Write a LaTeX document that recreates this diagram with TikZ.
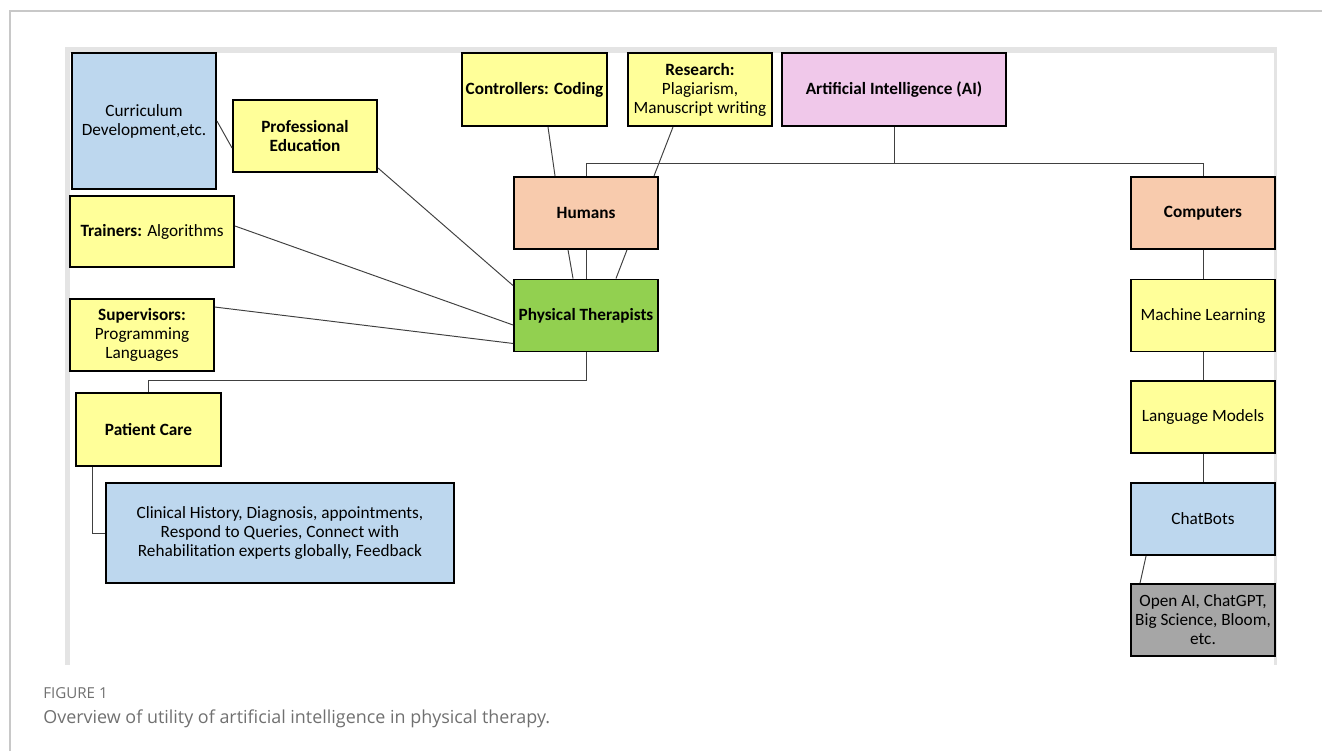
\documentclass[tikz,border=0pt]{standalone}
\usepackage{fontspec}
\setmainfont{Carlito}
\newfontfamily\capfont{Open Sans}
\usetikzlibrary{calc}
\definecolor{boxyellow}{RGB}{255,255,153}
\definecolor{boxblue}{RGB}{189,215,238}
\definecolor{boxsalmon}{RGB}{248,203,173}
\definecolor{boxgreen}{RGB}{146,208,80}
\definecolor{boxpink}{RGB}{240,200,234}
\definecolor{boxgray}{RGB}{166,166,166}
\definecolor{linkgray}{RGB}{64,64,64}
\definecolor{capgray}{RGB}{112,112,112}
\definecolor{framegray}{RGB}{200,200,200}
\definecolor{panelgray}{RGB}{228,228,228}
\tikzstyle{box}=[draw=black,line width=1.1pt,inner sep=1pt,align=center,font=\fontsize{9.8}{10.8}\selectfont]
\tikzstyle{smallbox}=[box,minimum width=2.88cm,minimum height=1.44cm]
\tikzstyle{link}=[draw=linkgray,line width=0.55pt]

\begin{document}
\begin{tikzpicture}[x=0.02cm,y=-0.02cm]  % 1 unit = 1 px of the figure
\useasboundingbox (0,0) rectangle (1322,751);

% page frame and panel
\draw[framegray,line width=0.6pt] (10,751)
      to  (10,11)
      to  (1322,11);
\fill[panelgray] (65,47) rectangle (1276,53);
\fill[panelgray] (65,47) rectangle (70,665);
\fill[panelgray] (1274,47) rectangle (1277,665);

% left side
\node[box,fill=boxblue,minimum width=2.88cm,minimum height=2.72cm] (cur) at (144,121) {Curriculum\\Development,etc.};
\node[smallbox,fill=boxyellow] (profed) at (305,136) {\textbf{Professional}\\\textbf{Education}};
\node[box,fill=boxyellow,minimum width=3.28cm,minimum height=1.42cm] (train) at (152,231.5) {\textbf{Trainers:} Algorithms};
\node[smallbox,fill=boxyellow] (super) at (142,335) {\textbf{Supervisors:}\\Programming\\Languages};
\node[box,fill=boxyellow,minimum width=2.9cm,minimum height=1.46cm] (pc) at (148.5,429.5) {\textbf{Patient Care}};
\node[box,fill=boxblue,minimum width=6.96cm,minimum height=2cm] (clin) at (280,533) {Clinical History, Diagnosis, appointments,\\Respond to Queries, Connect with\\Rehabilitation experts globally, Feedback};

% top row
\node[box,fill=boxyellow,minimum width=2.9cm,minimum height=1.46cm] (ctrl) at (534.5,89.5) {\textbf{Controllers: Coding}};
\node[box,fill=boxyellow,minimum width=2.88cm,minimum height=1.46cm] (res) at (700,89.5) {\textbf{Research:}\\Plagiarism,\\Manuscript writing};
\node[box,fill=boxpink,minimum width=4.48cm,minimum height=1.46cm] (ai) at (894,89.5) {\textbf{Artificial Intelligence (AI)}};

% humans branch
\node[smallbox,fill=boxsalmon] (hum) at (586,213) {\textbf{Humans}};
\node[smallbox,fill=boxgreen] (pt) at (586,315.5) {\textbf{Physical Therapists}};

% computers branch
\node[smallbox,fill=boxsalmon] (comp) at (1203,213) {\textbf{Computers}};
\node[smallbox,fill=boxyellow] (ml) at (1203,315.5) {Machine Learning};
\node[smallbox,fill=boxyellow] (lm) at (1203,417) {Language Models};
\node[smallbox,fill=boxblue] (chat) at (1203,519) {ChatBots};
\node[smallbox,fill=boxgray] (oai) at (1203,620) {Open AI, ChatGPT,\\Big Science, Bloom,\\etc.};

% connectors
\draw[link] (ai.south) to ++(0,37) coordinate (aibus);
\draw[link] (hum.north) |- (aibus) -| (comp.north);
\draw[link] ([xshift=0.27cm]ctrl.south) to ([xshift=0.84cm]hum.north west);
\draw[link] ([xshift=-0.54cm]res.south) to ([xshift=-0.1cm]hum.north east);
\draw[link] ([xshift=1.1cm]hum.south west) to ([xshift=1.2cm]pt.north west);
\draw[link] (hum.south) to (pt.north);
\draw[link] ([xshift=-0.64cm]hum.south east) to ([xshift=-0.86cm]pt.north east);
\draw[link] (cur.east) to ([yshift=-0.24cm]profed.west);
\draw[link] ([yshift=0.1cm]profed.south east) to ([yshift=-0.14cm]pt.north west);
\draw[link] ([yshift=0.11cm]train.east) to ([yshift=-0.19cm]pt.west);
\draw[link] ([yshift=-0.18cm]super.north east) to ([yshift=0.18cm]pt.south west);
\draw[link] (pt.south) to ++(0,28) -| (pc.north);
\draw[link] ([xshift=0.34cm]pc.south west) |- (clin.west);
\draw[link] (comp.south) to (ml.north);
\draw[link] (ml.south) to (lm.north);
\draw[link] (lm.south) to (chat.north);
\draw[link] ([xshift=0.32cm]chat.south west) to ([xshift=0.2cm]oai.north west);

% caption
\node[anchor=base west,inner sep=0pt,text=capgray,font=\capfont\fontsize{8.6}{10}\selectfont] (figlab) at (43,698) {FIGURE 1};
\node[anchor=base west,inner sep=0pt,text=capgray,font=\capfont\fontsize{10.2}{12}\selectfont] (figcap) at (43,723) {Overview of utility of artificial intelligence in physical therapy.};
\end{tikzpicture}
\end{document}
